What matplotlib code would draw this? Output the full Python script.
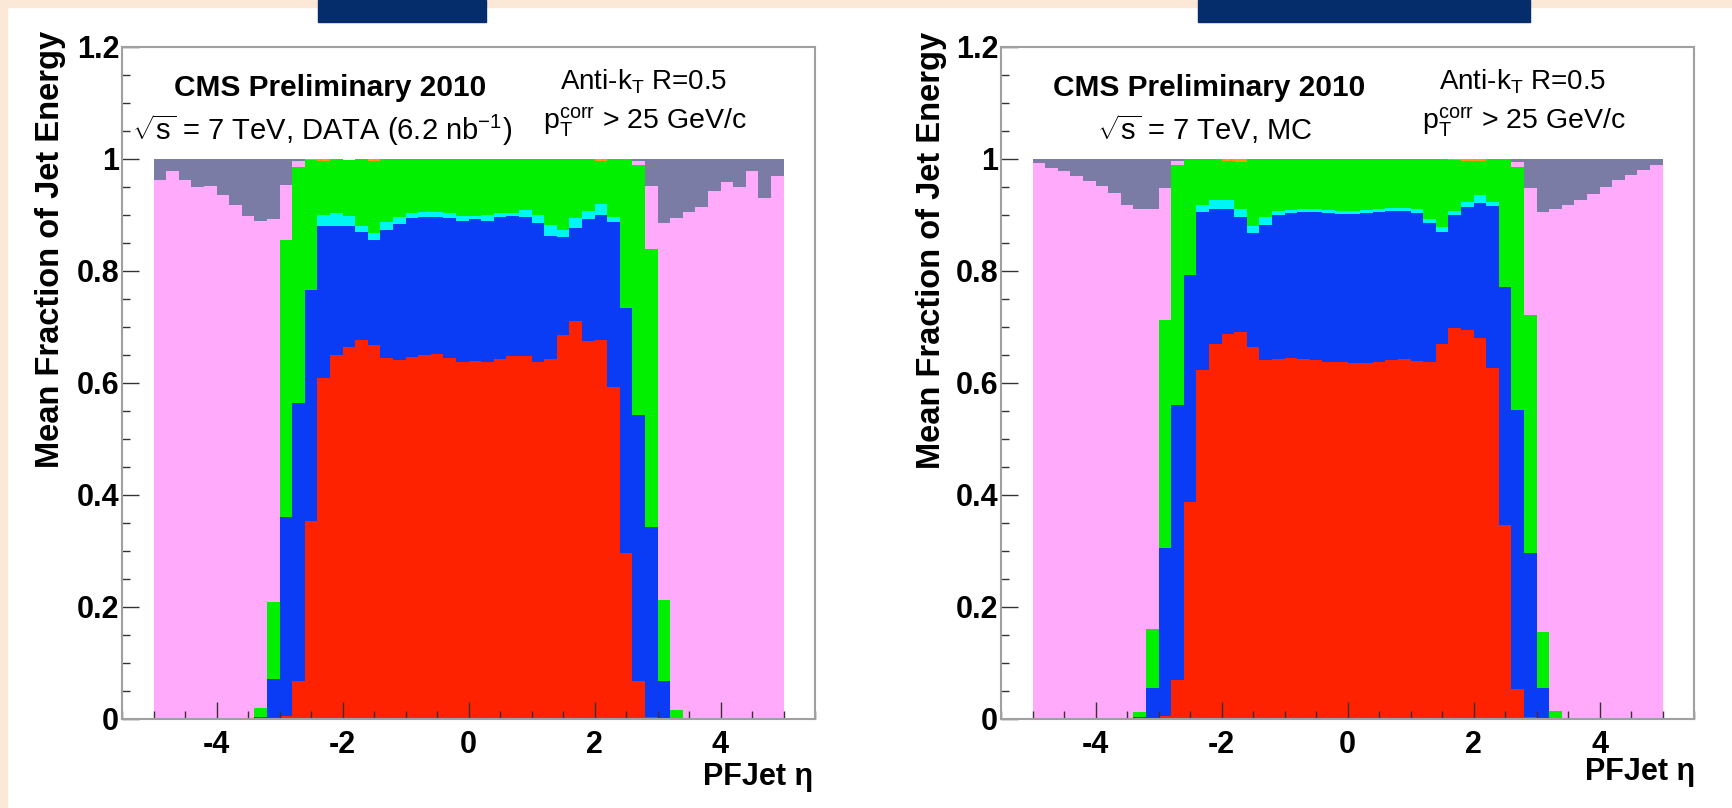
import numpy as np
import matplotlib
matplotlib.use("Agg")
import matplotlib.pyplot as plt
from matplotlib.patches import Rectangle
from matplotlib.ticker import MultipleLocator, FuncFormatter

plt.rcParams['font.family'] = ['Liberation Sans', 'DejaVu Sans']
plt.rcParams['mathtext.fontset'] = 'custom'
plt.rcParams['mathtext.rm'] = 'Liberation Sans'
plt.rcParams['mathtext.it'] = 'Liberation Sans:italic'
plt.rcParams['mathtext.bf'] = 'Liberation Sans:bold'
plt.rcParams['axes.unicode_minus'] = False

# --- 50 eta bins of 0.2 from -5 to 5 ---
eta_edges = np.linspace(-5.0, 5.0, 51)

# --- DATA: mean energy fractions per bin ---
chf_data = [0, 0, 0, 0, 0, 0, 0, 0, 0, 0,
            0.005, 0.067, 0.353, 0.609, 0.650, 0.664, 0.677, 0.668, 0.644, 0.641,
            0.646, 0.650, 0.651, 0.644, 0.638, 0.639, 0.638, 0.643, 0.648, 0.648,
            0.638, 0.642, 0.686, 0.710, 0.675, 0.677, 0.593, 0.297, 0.067, 0.003,
            0, 0, 0, 0, 0, 0, 0, 0, 0, 0]
phf_data = [0, 0, 0, 0, 0, 0, 0, 0, 0.003, 0.072,
            0.355, 0.497, 0.413, 0.272, 0.231, 0.216, 0.192, 0.188, 0.230, 0.243,
            0.248, 0.246, 0.245, 0.250, 0.251, 0.253, 0.252, 0.253, 0.250, 0.248,
            0.247, 0.220, 0.174, 0.167, 0.217, 0.223, 0.294, 0.437, 0.476, 0.339,
            0.067, 0.002, 0, 0, 0, 0, 0, 0, 0, 0]
elf_data = [0, 0, 0, 0, 0, 0, 0, 0, 0, 0,
            0, 0, 0, 0.019, 0.022, 0.018, 0.012, 0.012, 0.013, 0.013,
            0.010, 0.009, 0.009, 0.009, 0.009, 0.006, 0.010, 0.007, 0.006, 0.013,
            0.015, 0.021, 0.014, 0.017, 0.015, 0.020, 0.009, 0, 0, 0,
            0, 0, 0, 0, 0, 0, 0, 0, 0, 0]
nhf_data = [0, 0, 0, 0, 0, 0, 0, 0, 0.017, 0.137,
            0.496, 0.421, 0.233, 0.096, 0.097, 0.101, 0.119, 0.128, 0.113, 0.103,
            0.096, 0.095, 0.095, 0.097, 0.102, 0.102, 0.100, 0.097, 0.096, 0.091,
            0.100, 0.117, 0.126, 0.106, 0.093, 0.076, 0.104, 0.266, 0.447, 0.498,
            0.145, 0.014, 0, 0, 0, 0, 0, 0, 0, 0]
muf_data = [0, 0, 0, 0, 0, 0, 0, 0, 0, 0,
            0, 0, 0.001, 0.004, 0, 0, 0, 0.004, 0, 0,
            0, 0, 0, 0, 0, 0, 0, 0, 0, 0,
            0, 0, 0, 0, 0, 0.004, 0, 0, 0, 0,
            0, 0, 0, 0, 0, 0, 0, 0, 0, 0]
hhf_data = [0.962, 0.978, 0.962, 0.950, 0.952, 0.935, 0.918, 0.898, 0.869, 0.684,
            0.098, 0.012, 0, 0, 0, 0, 0, 0, 0, 0,
            0, 0, 0, 0, 0, 0, 0, 0, 0, 0,
            0, 0, 0, 0, 0, 0, 0, 0, 0.007, 0.112,
            0.673, 0.879, 0.905, 0.914, 0.942, 0.959, 0.950, 0.978, 0.931, 0.970]
hef_data = [0.038, 0.022, 0.038, 0.050, 0.048, 0.065, 0.082, 0.102, 0.111, 0.107,
            0.046, 0.003, 0, 0, 0, 0, 0, 0, 0, 0,
            0, 0, 0, 0, 0, 0, 0, 0, 0, 0,
            0, 0, 0, 0, 0, 0, 0, 0, 0.003, 0.048,
            0.115, 0.105, 0.095, 0.086, 0.058, 0.041, 0.050, 0.022, 0.069, 0.030]

# --- MC: mean energy fractions per bin ---
chf_mc = [0, 0, 0, 0, 0, 0, 0, 0, 0, 0,
          0.005, 0.069, 0.387, 0.623, 0.669, 0.688, 0.691, 0.665, 0.641, 0.643,
          0.645, 0.643, 0.641, 0.637, 0.637, 0.636, 0.636, 0.638, 0.641, 0.643,
          0.639, 0.638, 0.669, 0.699, 0.694, 0.680, 0.627, 0.347, 0.054, 0.003,
          0, 0, 0, 0, 0, 0, 0, 0, 0, 0]
phf_mc = [0, 0, 0, 0, 0, 0, 0, 0, 0.003, 0.056,
          0.300, 0.492, 0.406, 0.282, 0.242, 0.223, 0.205, 0.203, 0.241, 0.257,
          0.258, 0.262, 0.264, 0.266, 0.265, 0.265, 0.267, 0.268, 0.266, 0.264,
          0.264, 0.247, 0.201, 0.201, 0.220, 0.242, 0.289, 0.424, 0.498, 0.294,
          0.056, 0.002, 0, 0, 0, 0, 0, 0, 0, 0]
elf_mc = [0, 0, 0, 0, 0, 0, 0, 0, 0, 0,
          0, 0, 0, 0.013, 0.016, 0.015, 0.015, 0.013, 0.014, 0.007,
          0.006, 0.006, 0.006, 0.006, 0.006, 0.006, 0.006, 0.005, 0.005, 0.006,
          0.008, 0.007, 0.009, 0.007, 0.010, 0.013, 0.008, 0, 0, 0,
          0, 0, 0, 0, 0, 0, 0, 0, 0, 0]
nhf_mc = [0, 0, 0, 0, 0, 0, 0, 0, 0.010, 0.104,
          0.407, 0.428, 0.207, 0.082, 0.073, 0.071, 0.083, 0.119, 0.104, 0.093,
          0.091, 0.089, 0.089, 0.091, 0.092, 0.093, 0.091, 0.089, 0.088, 0.087,
          0.089, 0.108, 0.121, 0.091, 0.072, 0.061, 0.076, 0.229, 0.433, 0.424,
          0.100, 0.013, 0, 0, 0, 0, 0, 0, 0, 0]
muf_mc = [0, 0, 0, 0, 0, 0, 0, 0, 0, 0,
          0, 0, 0, 0, 0, 0.003, 0.006, 0, 0, 0,
          0, 0, 0, 0, 0, 0, 0, 0, 0, 0,
          0, 0, 0, 0.002, 0.004, 0.004, 0, 0, 0, 0,
          0, 0, 0, 0, 0, 0, 0, 0, 0, 0]
hhf_mc = [0.993, 0.984, 0.978, 0.969, 0.961, 0.952, 0.940, 0.918, 0.898, 0.751,
          0.236, 0.007, 0, 0, 0, 0, 0, 0, 0, 0,
          0, 0, 0, 0, 0, 0, 0, 0, 0, 0,
          0, 0, 0, 0, 0, 0, 0, 0, 0.010, 0.228,
          0.750, 0.896, 0.918, 0.926, 0.938, 0.950, 0.962, 0.972, 0.981, 0.990]
hef_mc = [0.007, 0.016, 0.022, 0.031, 0.039, 0.048, 0.060, 0.082, 0.089, 0.089,
          0.052, 0.004, 0, 0, 0, 0, 0, 0, 0, 0,
          0, 0, 0, 0, 0, 0, 0, 0, 0, 0,
          0, 0, 0, 0, 0, 0, 0, 0, 0.005, 0.051,
          0.094, 0.089, 0.082, 0.074, 0.062, 0.050, 0.038, 0.028, 0.019, 0.010]

# stack order bottom -> top
layer_colors = ['#ff2200', '#0a3cf5', '#00f5f5', '#00f000', '#ff9900', '#ffaafa', '#7a7ca6']

PEACH = '#fce8d6'
NAVY = '#052c6b'
W, H = 1732, 808

fig = plt.figure(figsize=(W / 100, H / 100), dpi=100, facecolor='white')

# page decorations
fig.patches.append(Rectangle((0, 1 - 7 / H), 1, 7 / H, transform=fig.transFigure,
                             color=PEACH, zorder=0))
fig.patches.append(Rectangle((0, 0), 7 / W, 1, transform=fig.transFigure,
                             color=PEACH, zorder=0))
for x0, x1 in [(318, 486), (1198, 1530)]:
    fig.patches.append(Rectangle((x0 / W, 1 - 22 / H), (x1 - x0) / W, 22 / H,
                                 transform=fig.transFigure, color=NAVY, zorder=1))


def draw_panel(left_px, layers, subtitle, sub_x, ylab_px, xlab_px):
    ax = fig.add_axes([left_px / W, 89 / H, 693 / W, 672 / H])
    bottom = np.zeros(len(eta_edges) - 1)
    for vals, col in zip(layers, layer_colors):
        top = bottom + np.asarray(vals, dtype=float)
        ax.stairs(top, eta_edges, baseline=bottom, fill=True, color=col, lw=0)
        bottom = top

    ax.set_xlim(-5.5, 5.5)
    ax.set_ylim(0, 1.2)
    ax.xaxis.set_major_locator(MultipleLocator(2))
    ax.xaxis.set_minor_locator(MultipleLocator(0.5))
    ax.yaxis.set_major_locator(MultipleLocator(0.2))
    ax.yaxis.set_minor_locator(MultipleLocator(0.05))
    ax.yaxis.set_major_formatter(FuncFormatter(lambda v, p: f"{v:g}"))
    ax.xaxis.set_major_formatter(FuncFormatter(lambda v, p: f"{v:g}"))
    ax.tick_params(which='both', direction='in', top=False, right=False,
                   color='#333333', width=1)
    ax.tick_params(which='major', length=12, labelsize=22)
    ax.tick_params(which='minor', length=6)
    ax.tick_params(axis='x', which='major', pad=8)
    ax.tick_params(axis='y', which='major', pad=2)
    for lab in ax.get_xticklabels() + ax.get_yticklabels():
        lab.set_fontweight('bold')
    for sp in ax.spines.values():
        sp.set_color('#a0a0a0')
        sp.set_linewidth(1.5)

    ax.text(-2.2, 1.113, 'CMS Preliminary 2010', fontsize=21.5, fontweight='bold',
            ha='center', va='baseline')
    ax.text(sub_x, 1.034, subtitle, fontsize=21, ha='center', va='baseline')
    ax.text(2.78, 1.125, r'Anti-k$_{\mathrm{T}}$ R=0.5', fontsize=20,
            ha='center', va='baseline')
    ax.text(2.80, 1.053, r'p$_{\mathrm{T}}^{\mathrm{corr}}$ > 25 GeV/c', fontsize=20.5,
            ha='center', va='baseline')

    fig.text(ylab_px[0] / W, 1 - ylab_px[1] / H, 'Mean Fraction of Jet Energy',
             rotation=90, fontsize=23.5, fontweight='bold', ha='center', va='top')
    fig.text(xlab_px[0] / W, 1 - xlab_px[1] / H, 'PFJet η', fontsize=22,
             fontweight='bold', ha='right', va='center')
    return ax


draw_panel(122, [chf_data, phf_data, elf_data, nhf_data, muf_data, hhf_data, hef_data],
           r'$\sqrt{\mathrm{s}}$ = 7 TeV, DATA (6.2 nb$^{\mathrm{-1}}$)', -2.33,
           (51, 31), (813, 777))
draw_panel(1001, [chf_mc, phf_mc, elf_mc, nhf_mc, muf_mc, hhf_mc, hef_mc],
           r'$\sqrt{\mathrm{s}}$ = 7 TeV, MC', -2.26,
           (932, 32), (1695, 772))

fig.savefig('out.png', dpi=100, facecolor=fig.get_facecolor())
